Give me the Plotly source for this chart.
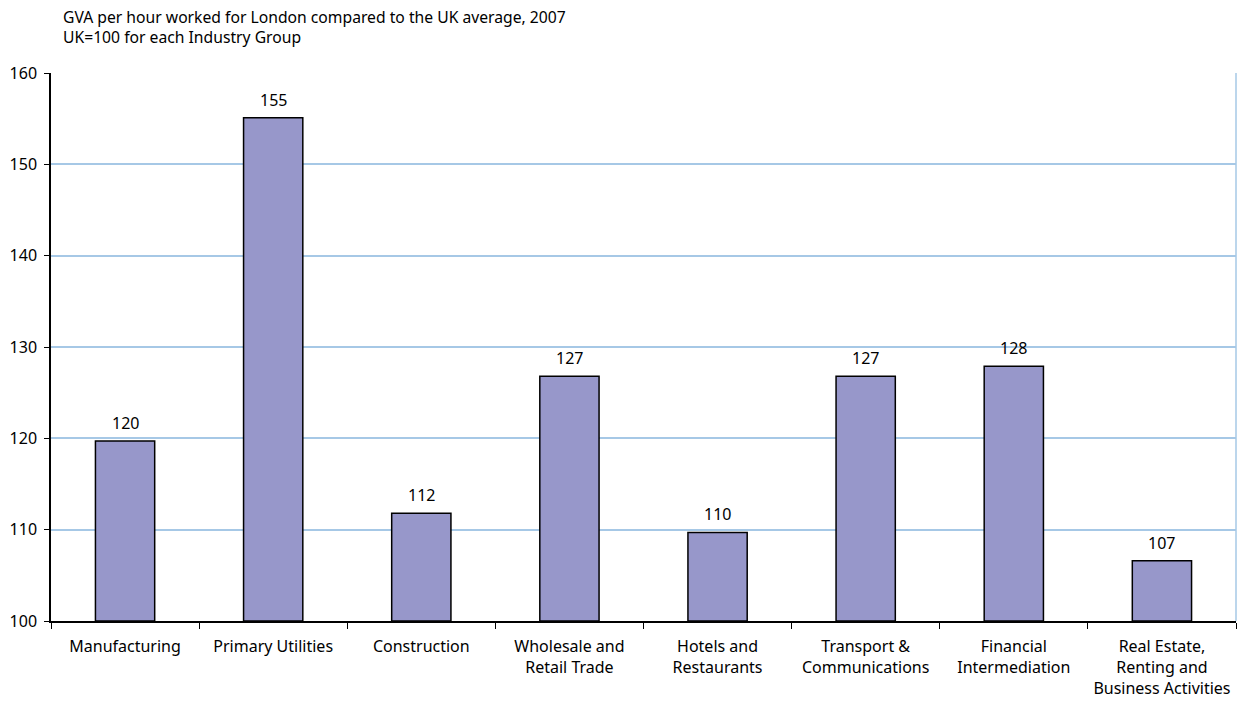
import plotly.graph_objects as go

categories = ["Manufacturing", "Primary Utilities", "Construction",
              "Wholesale and<br>Retail Trade", "Hotels and<br>Restaurants",
              "Transport &<br>Communications", "Financial<br>Intermediation",
              "Real Estate,<br>Renting and<br>Business Activities"]
values = [119.7, 155.1, 111.8, 126.8, 109.7, 126.8, 127.9, 106.6]
labels = ["120", "155", "112", "127", "110", "127", "128", "107"]
y_ticks = [100, 110, 120, 130, 140, 150, 160]
BASE = 100

FONT = "Noto Sans"

fig = go.Figure(go.Bar(
    x=categories, y=[v - BASE for v in values], base=BASE,
    marker=dict(color="#9797CA", line=dict(color="#000000", width=1.5)),
    width=0.4, hoverinfo="skip",
))
for c, v, t in zip(categories, values, labels):
    fig.add_annotation(x=c, y=v, text=t, showarrow=False, yanchor="bottom",
                       yshift=5, font=dict(family=FONT, size=16, color="#000000"))

fig.add_annotation(
    text="GVA per hour worked for London compared to the UK average, 2007<br>UK=100 for each Industry Group",
    xref="paper", yref="paper", x=(61 - 51) / (1237 - 52), y=1, yshift=69,
    xanchor="left", yanchor="top", align="left", showarrow=False,
    font=dict(family=FONT, size=15.7, color="#000000"),
)

fig.update_layout(
    width=1237, height=704,
    margin=dict(l=51, r=1, t=73, b=83),
    plot_bgcolor="white", paper_bgcolor="white",
    showlegend=False,
    font=dict(family=FONT, size=16, color="#000000"),
)
fig.update_xaxes(
    type="category", tickson="boundaries", ticks="outside", ticklen=6,
    tickcolor="#000000", showline=True, linecolor="#000000", linewidth=1.5,
    showgrid=False, tickfont=dict(family=FONT, size=16), ticklabelstandoff=10,
)
fig.update_yaxes(
    range=[100, 160], tickvals=y_ticks, ticks="outside", ticklen=5,
    tickcolor="#000000", showline=True, linecolor="#000000", linewidth=1.5,
    showgrid=True, gridcolor="#A6C8E6", gridwidth=1.5, zeroline=False,
    tickfont=dict(family=FONT, size=16), ticklabelstandoff=4,
)
fig.add_shape(type="line", xref="paper", yref="paper", x0=1, x1=1, y0=0, y1=1,
              line=dict(color="#A6C8E6", width=1.5))

fig.write_html("out.html")
